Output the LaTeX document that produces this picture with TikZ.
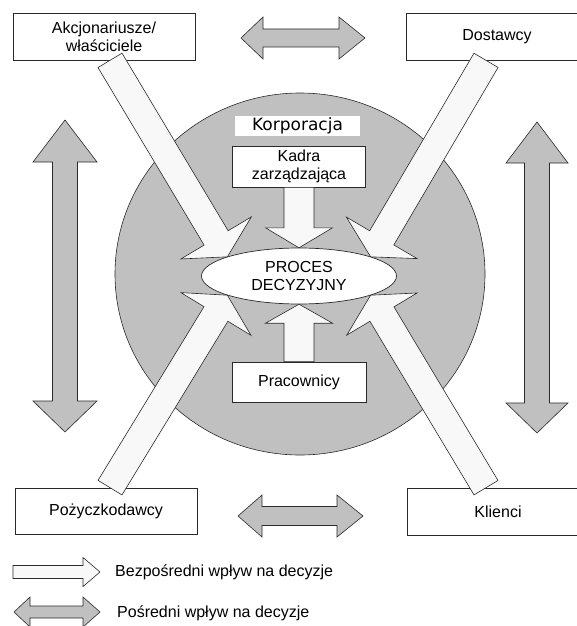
\documentclass[tikz,border=0pt]{standalone}
\usepackage{fontspec}
\setmainfont{Liberation Sans}
\newfontfamily\corpfont{DejaVu Sans}
\usetikzlibrary{calc,shapes.geometric}

\definecolor{infl}{HTML}{C0C0C0}
\definecolor{direct}{HTML}{F8F8F8}
\definecolor{edge}{HTML}{2A2A2A}

% Block arrow with one head: tail, tip, shaft half-width, head half-width, head length, style
\newcommand{\singleblock}[6]{%
  \coordinate (sb-t) at (#1);
  \coordinate (sb-p) at (#2);
  \coordinate (sb-b) at ($(sb-p)!#5!(sb-t)$);
  \path[#6] ($(sb-t)!#3!90:(sb-p)$) -- ($(sb-b)!#3!90:(sb-p)$)
    -- ($(sb-b)!#4!90:(sb-p)$) -- (sb-p) -- ($(sb-b)!#4!-90:(sb-p)$)
    -- ($(sb-b)!#3!-90:(sb-p)$) -- ($(sb-t)!#3!-90:(sb-p)$) -- cycle;}

% Block arrow with two heads: tip A, tip B, shaft half-width, head half-width,
% head length at A, head length at B, style
\newcommand{\doubleblock}[7]{%
  \coordinate (db-a) at (#1);
  \coordinate (db-z) at (#2);
  \coordinate (db-1) at ($(db-a)!#5!(db-z)$);
  \coordinate (db-2) at ($(db-z)!#6!(db-a)$);
  \path[#7] (db-a) -- ($(db-1)!#4!90:(db-z)$) -- ($(db-1)!#3!90:(db-z)$)
    -- ($(db-2)!#3!-90:(db-a)$) -- ($(db-2)!#4!-90:(db-a)$) -- (db-z)
    -- ($(db-2)!#4!90:(db-a)$) -- ($(db-2)!#3!90:(db-a)$)
    -- ($(db-1)!#3!-90:(db-z)$) -- ($(db-1)!#4!-90:(db-z)$) -- cycle;}

\tikzset{
  txt/.style={font=\fontsize{16}{18}\selectfont},
  party/.style={txt, draw=edge, fill=white, line width=0.7pt, inner sep=0pt,
                align=center},
  grayblock/.style={fill=infl, draw=edge, line width=0.6pt, line join=miter},
  whiteblock/.style={fill=direct, draw=edge, line width=0.6pt, line join=miter},
}

\begin{document}
\begin{tikzpicture}[x=1pt, y=-1pt]
  \useasboundingbox (0,0) rectangle (577,626);
  \clip (0,0) rectangle (577,626);
  \fill[white] (0,0) rectangle (577,626);

  % the corporation
  \fill[infl, draw=edge, line width=0.6pt] (300,274) ellipse [x radius=185, y radius=181];

  % indirect influences between the outside parties
  \coordinate (lv-top) at (65,120);
  \coordinate (lv-bot) at (65,432);
  \coordinate (rv-top) at (537,122);
  \coordinate (rv-bot) at (537,433);
  \coordinate (th-l) at (241,38);
  \coordinate (th-r) at (365,38);
  \coordinate (bh-l) at (238,516);
  \coordinate (bh-r) at (363,516);
  \doubleblock{lv-top}{lv-bot}{12.5pt}{32pt}{42pt}{31pt}{grayblock}
  \doubleblock{rv-top}{rv-bot}{12.5pt}{31pt}{41pt}{30pt}{grayblock}
  \doubleblock{th-l}{th-r}{9pt}{21pt}{22pt}{26pt}{grayblock}
  \doubleblock{bh-l}{bh-r}{9.5pt}{21pt}{24pt}{26pt}{grayblock}

  % outside parties
  \node[party, minimum width=182, minimum height=47] (akc) at (104,36.5)
    {Akcjonariusze/\\właściciele};
  \node[party, minimum width=182, minimum height=47] (dost) at (497,36.5) {Dostawcy};
  \node[party, minimum width=182, minimum height=46] (poz) at (106,511) {Pożyczkodawcy};
  \node[party, minimum width=182, minimum height=47] (kli) at (498,511.5) {Klienci};

  % inside the corporation
  \node[fill=white, minimum width=125, minimum height=20, inner sep=0pt,
        font=\corpfont\fontsize{17}{19}\selectfont] (korp) at (297.5,126) {Korporacja};
  \node[party, minimum width=133, minimum height=41] (kadra) at (299,166.5)
    {Kadra\\zarządzająca};
  \node[party, minimum width=134, minimum height=40] (prac) at (299,382) {Pracownicy};

  % the decision process sits at the centre
  \path (299,276) node[ellipse, minimum width=195, minimum height=56, inner sep=0pt] (proces) {};

  % direct influences
  \singleblock{kadra.south}{proces.north}{15pt}{33.5pt}{20pt}{whiteblock}
  \singleblock{prac.north}{proces.south}{15pt}{33.5pt}{19pt}{whiteblock}
  \singleblock{[xshift=6]akc.south}{proces.165}{14pt}{41pt}{22pt}{whiteblock}
  \singleblock{[xshift=-11]dost.south}{proces.15}{14pt}{41pt}{22pt}{whiteblock}
  \singleblock{[xshift=4]poz.north}{proces.195}{14pt}{41pt}{22pt}{whiteblock}
  \singleblock{[xshift=-12]kli.north}{proces.-15}{14pt}{41pt}{22pt}{whiteblock}

  \node[party, ellipse, minimum width=195, minimum height=56, draw=edge,
        fill=white, line width=0.7pt] at (proces.center) {PROCES\\DECYZYJNY};

  % legend
  \coordinate (lg1-a) at (13,572);
  \coordinate (lg1-b) at (100,572);
  \coordinate (lg2-a) at (14,612);
  \coordinate (lg2-b) at (100,612);
  \singleblock{lg1-a}{lg1-b}{6.5pt}{14.5pt}{17pt}{whiteblock}
  \doubleblock{lg2-a}{lg2-b}{6pt}{15pt}{16pt}{17pt}{grayblock}
  \node[txt, anchor=west, inner sep=0pt] (lg1-t) at (115,572) {Bezpośredni wpływ na decyzje};
  \node[txt, anchor=west, inner sep=0pt] (lg2-t) at (117,613) {Pośredni wpływ na decyzje};
\end{tikzpicture}
\end{document}
